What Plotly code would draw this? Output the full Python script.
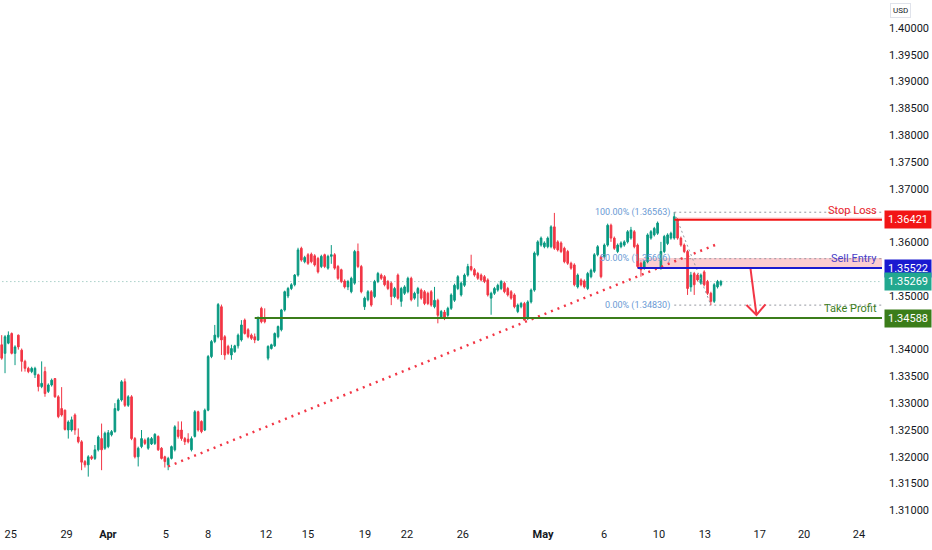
import plotly.graph_objects as go

# 4H candles (oldest first)
opens = [1.3409, 1.3393, 1.3412, 1.3430, 1.3393, 1.3427, 1.3399, 1.3378, 1.3365, 1.3359,
         1.3353, 1.3353, 1.3331, 1.3359, 1.3322, 1.3334, 1.3346, 1.3312, 1.3290, 1.3287,
         1.3250, 1.3250, 1.3278, 1.3237, 1.3228, 1.3191, 1.3185, 1.3200, 1.3197, 1.3213,
         1.3234, 1.3216, 1.3219, 1.3241, 1.3247, 1.3287, 1.3306, 1.3340, 1.3296, 1.3312,
         1.3234, 1.3200, 1.3219, 1.3231, 1.3216, 1.3224, 1.3225, 1.3238, 1.3216, 1.3200,
         1.3185, 1.3197, 1.3213, 1.3250, 1.3250, 1.3234, 1.3233, 1.3213, 1.3238, 1.3284,
         1.3266, 1.3250, 1.3287, 1.3387, 1.3415, 1.3424, 1.3480, 1.3424, 1.3406, 1.3390,
         1.3396, 1.3407, 1.3418, 1.3455, 1.3437, 1.3427, 1.3424, 1.3418, 1.3477, 1.3458,
         1.3384, 1.3402, 1.3407, 1.3424, 1.3437, 1.3474, 1.3500, 1.3514, 1.3521, 1.3539,
         1.3589, 1.3564, 1.3577, 1.3578, 1.3575, 1.3570, 1.3555, 1.3577, 1.3552, 1.3574,
         1.3577, 1.3555, 1.3549, 1.3528, 1.3517, 1.3508, 1.3524, 1.3583, 1.3555, 1.3480,
         1.3493, 1.3508, 1.3499, 1.3527, 1.3539, 1.3536, 1.3527, 1.3524, 1.3499, 1.3539,
         1.3490, 1.3505, 1.3508, 1.3533, 1.3496, 1.3505, 1.3511, 1.3508, 1.3505, 1.3508,
         1.3480, 1.3492, 1.3461, 1.3470, 1.3464, 1.3477, 1.3492, 1.3514, 1.3502, 1.3520,
         1.3539, 1.3555, 1.3549, 1.3542, 1.3539, 1.3536, 1.3530, 1.3496, 1.3505, 1.3511,
         1.3514, 1.3524, 1.3514, 1.3508, 1.3502, 1.3471, 1.3480, 1.3486, 1.3458, 1.3489,
         1.3511, 1.3577, 1.3595, 1.3592, 1.3592, 1.3592, 1.3629, 1.3601, 1.3599, 1.3589,
         1.3583, 1.3561, 1.3558, 1.3517, 1.3530, 1.3528, 1.3514, 1.3536, 1.3546, 1.3577,
         1.3573, 1.3573, 1.3595, 1.3632, 1.3608, 1.3583, 1.3592, 1.3595, 1.3601, 1.3608,
         1.3620, 1.3595, 1.3561, 1.3552, 1.3564, 1.3608, 1.3614, 1.3617, 1.3552, 1.3583,
         1.3598, 1.3608, 1.3608, 1.3642, 1.3608, 1.3595, 1.3583, 1.3517, 1.3542, 1.3539,
         1.3524, 1.3545, 1.3527, 1.3505, 1.3490, 1.3517, 1.3521]
highs = [1.3427, 1.3427, 1.3434, 1.3432, 1.3408, 1.3428, 1.3402, 1.3381, 1.3368, 1.3368,
         1.3368, 1.3355, 1.3378, 1.3368, 1.3337, 1.3346, 1.3347, 1.3315, 1.3330, 1.3288,
         1.3268, 1.3275, 1.3281, 1.3253, 1.3231, 1.3194, 1.3203, 1.3203, 1.3222, 1.3240,
         1.3262, 1.3247, 1.3250, 1.3250, 1.3300, 1.3309, 1.3343, 1.3346, 1.3315, 1.3315,
         1.3237, 1.3219, 1.3250, 1.3234, 1.3237, 1.3237, 1.3244, 1.3240, 1.3218, 1.3202,
         1.3200, 1.3221, 1.3259, 1.3266, 1.3266, 1.3237, 1.3244, 1.3238, 1.3287, 1.3286,
         1.3268, 1.3290, 1.3390, 1.3418, 1.3446, 1.3487, 1.3484, 1.3427, 1.3409, 1.3409,
         1.3409, 1.3430, 1.3455, 1.3458, 1.3440, 1.3430, 1.3430, 1.3462, 1.3480, 1.3477,
         1.3408, 1.3411, 1.3432, 1.3445, 1.3476, 1.3510, 1.3517, 1.3524, 1.3541, 1.3590,
         1.3592, 1.3575, 1.3580, 1.3581, 1.3578, 1.3573, 1.3577, 1.3579, 1.3577, 1.3595,
         1.3580, 1.3558, 1.3551, 1.3531, 1.3530, 1.3536, 1.3586, 1.3598, 1.3558, 1.3499,
         1.3511, 1.3511, 1.3530, 1.3545, 1.3542, 1.3539, 1.3530, 1.3527, 1.3517, 1.3542,
         1.3517, 1.3520, 1.3536, 1.3536, 1.3508, 1.3517, 1.3514, 1.3511, 1.3508, 1.3511,
         1.3517, 1.3495, 1.3474, 1.3474, 1.3480, 1.3505, 1.3523, 1.3539, 1.3527, 1.3542,
         1.3560, 1.3577, 1.3552, 1.3545, 1.3542, 1.3539, 1.3533, 1.3508, 1.3517, 1.3523,
         1.3530, 1.3527, 1.3517, 1.3511, 1.3505, 1.3486, 1.3489, 1.3489, 1.3492, 1.3514,
         1.3583, 1.3604, 1.3611, 1.3602, 1.3611, 1.3632, 1.3655, 1.3604, 1.3602, 1.3592,
         1.3586, 1.3564, 1.3561, 1.3542, 1.3533, 1.3531, 1.3545, 1.3551, 1.3580, 1.3595,
         1.3576, 1.3598, 1.3635, 1.3635, 1.3611, 1.3598, 1.3602, 1.3604, 1.3623, 1.3629,
         1.3623, 1.3598, 1.3564, 1.3567, 1.3617, 1.3623, 1.3629, 1.3639, 1.3601, 1.3614,
         1.3617, 1.3620, 1.36563, 1.3645, 1.3611, 1.3598, 1.3586, 1.3545, 1.3545, 1.3542,
         1.3542, 1.3548, 1.3530, 1.3508, 1.3524, 1.3530, 1.3530]
lows = [1.3381, 1.3356, 1.3410, 1.3391, 1.3371, 1.3400, 1.3359, 1.3359, 1.3356, 1.3356,
        1.3347, 1.3322, 1.3328, 1.3312, 1.3319, 1.3331, 1.3310, 1.3272, 1.3275, 1.3249,
        1.3234, 1.3247, 1.3241, 1.3225, 1.3175, 1.3180, 1.3163, 1.3194, 1.3194, 1.3210,
        1.3175, 1.3213, 1.3216, 1.3238, 1.3245, 1.3285, 1.3303, 1.3293, 1.3293, 1.3231,
        1.3197, 1.3182, 1.3216, 1.3222, 1.3213, 1.3222, 1.3222, 1.3211, 1.3195, 1.3180,
        1.3175, 1.3195, 1.3210, 1.3234, 1.3230, 1.3222, 1.3225, 1.3210, 1.3236, 1.3247,
        1.3244, 1.3248, 1.3285, 1.3384, 1.3412, 1.3421, 1.3390, 1.3381, 1.3390, 1.3381,
        1.3394, 1.3402, 1.3415, 1.3428, 1.3421, 1.3418, 1.3412, 1.3416, 1.3449, 1.3449,
        1.3380, 1.3400, 1.3405, 1.3421, 1.3434, 1.3471, 1.3496, 1.3511, 1.3518, 1.3536,
        1.3564, 1.3561, 1.3558, 1.3561, 1.3555, 1.3542, 1.3552, 1.3552, 1.3549, 1.3560,
        1.3549, 1.3530, 1.3524, 1.3514, 1.3511, 1.3505, 1.3521, 1.3552, 1.3505, 1.3474,
        1.3490, 1.3480, 1.3496, 1.3524, 1.3530, 1.3518, 1.3511, 1.3483, 1.3496, 1.3493,
        1.3480, 1.3502, 1.3505, 1.3490, 1.3493, 1.3480, 1.3493, 1.3483, 1.3483, 1.3480,
        1.3477, 1.3449, 1.3458, 1.3455, 1.3461, 1.3474, 1.3489, 1.3511, 1.3499, 1.3517,
        1.3536, 1.3546, 1.3536, 1.3530, 1.3527, 1.3524, 1.3499, 1.3465, 1.3502, 1.3508,
        1.3511, 1.3505, 1.3499, 1.3493, 1.3477, 1.3468, 1.3477, 1.3454, 1.3455, 1.3486,
        1.3508, 1.3574, 1.3592, 1.3589, 1.3589, 1.3589, 1.3586, 1.3583, 1.3580, 1.3561,
        1.3558, 1.3549, 1.3518, 1.3514, 1.3518, 1.3514, 1.3511, 1.3533, 1.3543, 1.3574,
        1.3533, 1.3570, 1.3592, 1.3601, 1.3586, 1.3580, 1.3589, 1.3592, 1.3598, 1.3605,
        1.3589, 1.3552, 1.3536, 1.3549, 1.3561, 1.3605, 1.3611, 1.3614, 1.3549, 1.3580,
        1.3595, 1.3605, 1.3605, 1.3605, 1.3592, 1.3580, 1.3502, 1.3508, 1.3502, 1.3527,
        1.3521, 1.3518, 1.3502, 1.34830, 1.3487, 1.3514, 1.3518]
closes = [1.3384, 1.3424, 1.3427, 1.3393, 1.3405, 1.3405, 1.3378, 1.3365, 1.3359, 1.3365,
          1.3365, 1.3331, 1.3337, 1.3318, 1.3334, 1.3343, 1.3312, 1.3275, 1.3278, 1.3251,
          1.3265, 1.3269, 1.3250, 1.3228, 1.3190, 1.3185, 1.3200, 1.3197, 1.3213, 1.3237,
          1.3213, 1.3244, 1.3245, 1.3247, 1.3290, 1.3306, 1.3340, 1.3296, 1.3312, 1.3234,
          1.3200, 1.3216, 1.3234, 1.3225, 1.3234, 1.3234, 1.3242, 1.3213, 1.3197, 1.3191,
          1.3197, 1.3219, 1.3256, 1.3238, 1.3234, 1.3228, 1.3228, 1.3234, 1.3284, 1.3250,
          1.3247, 1.3287, 1.3387, 1.3415, 1.3427, 1.3484, 1.3418, 1.3390, 1.3393, 1.3402,
          1.3407, 1.3427, 1.3446, 1.3430, 1.3424, 1.3421, 1.3418, 1.3458, 1.3452, 1.3452,
          1.3406, 1.3409, 1.3430, 1.3443, 1.3474, 1.3508, 1.3514, 1.3521, 1.3539, 1.3586,
          1.3567, 1.3572, 1.3561, 1.3564, 1.3558, 1.3545, 1.3574, 1.3555, 1.3574, 1.3577,
          1.3552, 1.3533, 1.3527, 1.3517, 1.3527, 1.3533, 1.3583, 1.3555, 1.3508, 1.3496,
          1.3508, 1.3483, 1.3527, 1.3542, 1.3533, 1.3521, 1.3514, 1.3499, 1.3514, 1.3496,
          1.3514, 1.3517, 1.3533, 1.3493, 1.3505, 1.3514, 1.3496, 1.3486, 1.3486, 1.3483,
          1.3492, 1.3464, 1.3471, 1.3460, 1.3477, 1.3502, 1.3520, 1.3536, 1.3524, 1.3539,
          1.3555, 1.3549, 1.3539, 1.3533, 1.3530, 1.3527, 1.3502, 1.3505, 1.3514, 1.3520,
          1.3527, 1.3508, 1.3502, 1.3496, 1.3480, 1.3483, 1.3486, 1.3455, 1.3489, 1.3511,
          1.3580, 1.3601, 1.3608, 1.3599, 1.3608, 1.3629, 1.3589, 1.3586, 1.3583, 1.3564,
          1.3561, 1.3552, 1.3521, 1.3539, 1.3521, 1.3517, 1.3542, 1.3548, 1.3577, 1.3592,
          1.3536, 1.3595, 1.3632, 1.3608, 1.3589, 1.3595, 1.3599, 1.3601, 1.3620, 1.3623,
          1.3592, 1.3555, 1.3549, 1.3564, 1.3614, 1.3620, 1.3626, 1.3636, 1.3583, 1.3611,
          1.3614, 1.3617, 1.3648, 1.3608, 1.3595, 1.3583, 1.3514, 1.3539, 1.3521, 1.3530,
          1.3539, 1.3521, 1.3505, 1.3490, 1.3521, 1.3527, 1.35269]

# time axis labels (position in bars)
tick_text = ["25", "29", "<b>Apr</b>", "5", "8", "12", "15", "19", "22", "26",
             "<b>May</b>", "6", "10", "13", "17", "20", "24"]
tick_pos = [2.7, 19.5, 31.9, 49.3, 62.0, 79.4, 92.0, 109.1, 121.7, 138.5,
            162.6, 180.9, 197.4, 211.2, 227.7, 241.0, 257.5]

# trade levels
stop_loss = 1.36421
sell_entry = 1.35522
sell_zone_top = 1.35710
take_profit = 1.34588
last_price = 1.35269

# fib retracement (high bar -> low bar)
fib_bars = [202, 213]
fib_levels = [1.36563, 1.35696, 1.34830]
fib_names = ["100.00%", "50.00%", "0.00%"]

# rising trendline and the down arrow
trend_x = [50, 215]
trend_y = [1.3182, 1.3597]
arrow_x = [224.9, 226.7]
arrow_y = [1.35509, 1.34646]
head_x = [223.7, 226.7, 229.4]
head_y = [1.34832, 1.34646, 1.34845]

# line starts (bar index)
tp_start = 76
entry_start = 191
sl_start = 202

x_end = 264.4
bars = list(range(len(opens)))

fig = go.Figure()

fig.add_trace(go.Candlestick(
    x=bars, open=opens, high=highs, low=lows, close=closes,
    increasing=dict(line=dict(color="#089981", width=1), fillcolor="#089981"),
    decreasing=dict(line=dict(color="#f23645", width=1), fillcolor="#f23645"),
    whiskerwidth=0, showlegend=False, hoverinfo="skip"))

# trendline (red dots)
fig.add_trace(go.Scatter(x=trend_x, y=trend_y, mode="lines",
                         line=dict(color="#f23645", width=2.5, dash="2px,5px"),
                         showlegend=False, hoverinfo="skip"))

# fib diagonal
fig.add_trace(go.Scatter(x=fib_bars, y=[fib_levels[0], fib_levels[-1]], mode="lines",
                         line=dict(color="#9598a1", width=1, dash="2px,3px"),
                         showlegend=False, hoverinfo="skip"))

# arrow
fig.add_trace(go.Scatter(x=arrow_x, y=arrow_y, mode="lines",
                         line=dict(color="#f23645", width=2),
                         showlegend=False, hoverinfo="skip"))
fig.add_trace(go.Scatter(x=head_x, y=head_y, mode="lines",
                         line=dict(color="#f23645", width=2),
                         showlegend=False, hoverinfo="skip"))

shapes = []
# sell zone
shapes.append(dict(type="rect", x0=entry_start, x1=x_end, y0=sell_entry, y1=sell_zone_top,
                   fillcolor="rgba(242,54,69,0.25)", line=dict(width=0), layer="below"))
shapes.append(dict(type="rect", x0=sl_start, x1=x_end, y0=stop_loss, y1=stop_loss + 0.0005,
                   fillcolor="rgba(242,54,69,0.18)", line=dict(width=0), layer="below"))
# last price
shapes.append(dict(type="line", x0=-1, x1=x_end, y0=last_price, y1=last_price,
                   line=dict(color="#7fb8ad", width=1, dash="1px,3px"), layer="below"))
# fib levels
for lv in fib_levels:
    shapes.append(dict(type="line", x0=fib_bars[0], x1=x_end, y0=lv, y1=lv,
                       line=dict(color="#9598a1", width=1, dash="2px,3px"), layer="below"))
# trade lines
shapes.append(dict(type="line", x0=sl_start, x1=x_end, y0=stop_loss, y1=stop_loss,
                   line=dict(color="#f21616", width=2)))
shapes.append(dict(type="line", x0=entry_start, x1=x_end, y0=sell_entry, y1=sell_entry,
                   line=dict(color="#1a1ad0", width=2)))
shapes.append(dict(type="line", x0=tp_start, x1=x_end, y0=take_profit, y1=take_profit,
                   line=dict(color="#3b7d1a", width=2)))

ann = []
for name, lv in zip(fib_names, fib_levels):
    ann.append(dict(x=fib_bars[0] - 0.8, y=lv, xref="x", yref="y", xanchor="right",
                    yanchor="middle", showarrow=False, text=f"{name} ({lv:.5f})",
                    font=dict(size=9, color="#6a9ad4", family="Roboto")))

for txt, lv, col in [("Stop Loss", stop_loss, "#e8222b"),
                     ("Sell Entry", sell_entry, "#4a3fc8"),
                     ("Take Profit", take_profit, "#3b7d1a")]:
    ann.append(dict(x=1, y=lv, xref="paper", yref="y", xanchor="right", yanchor="bottom",
                    xshift=-3, yshift=1, showarrow=False, text=txt,
                    font=dict(size=11, color=col, family="Roboto")))

for lv, col in [(stop_loss, "#f21616"), (sell_entry, "#1a1ad0"),
                (last_price, "#22a88f"), (take_profit, "#3b7d1a")]:
    ann.append(dict(x=1, y=lv, xref="paper", yref="y", xanchor="left", yanchor="middle",
                    xshift=2, showarrow=False, text=f"{lv:.5f}", bgcolor=col,
                    width=42, borderpad=2, align="center",
                    font=dict(size=11, color="white", family="Roboto")))

ann.append(dict(x=1, y=1, xref="paper", yref="paper", xanchor="left", yanchor="top",
                xshift=8, yshift=-3, showarrow=False, text="USD",
                bordercolor="#e0e3eb", borderwidth=1, borderpad=2,
                font=dict(size=8, color="#131722", family="Roboto")))

fig.update_layout(
    width=932, height=550,
    margin=dict(l=0, r=50, t=0, b=32),
    paper_bgcolor="white", plot_bgcolor="white",
    shapes=shapes, annotations=ann,
    font=dict(family="Roboto", color="#131722", size=11),
    xaxis=dict(range=[-0.51, x_end], tickvals=tick_pos, ticktext=tick_text,
               showgrid=False, zeroline=False, showline=False, ticks="",
               ticklabelstandoff=8,
               rangeslider=dict(visible=False), tickfont=dict(size=11)),
    yaxis=dict(side="right", range=[1.308582, 1.405224],
               tickvals=[1.31 + 0.005 * k for k in range(19)], tickformat=".5f",
               showgrid=False, zeroline=False, showline=False, ticks="",
               ticklabelstandoff=6, tickfont=dict(size=11)),
)

# drop the default page margin so the chart sits at the window's corner
fig.write_html("out.html", config={"displayModeBar": False},
               post_script="document.body.style.margin='0';")
